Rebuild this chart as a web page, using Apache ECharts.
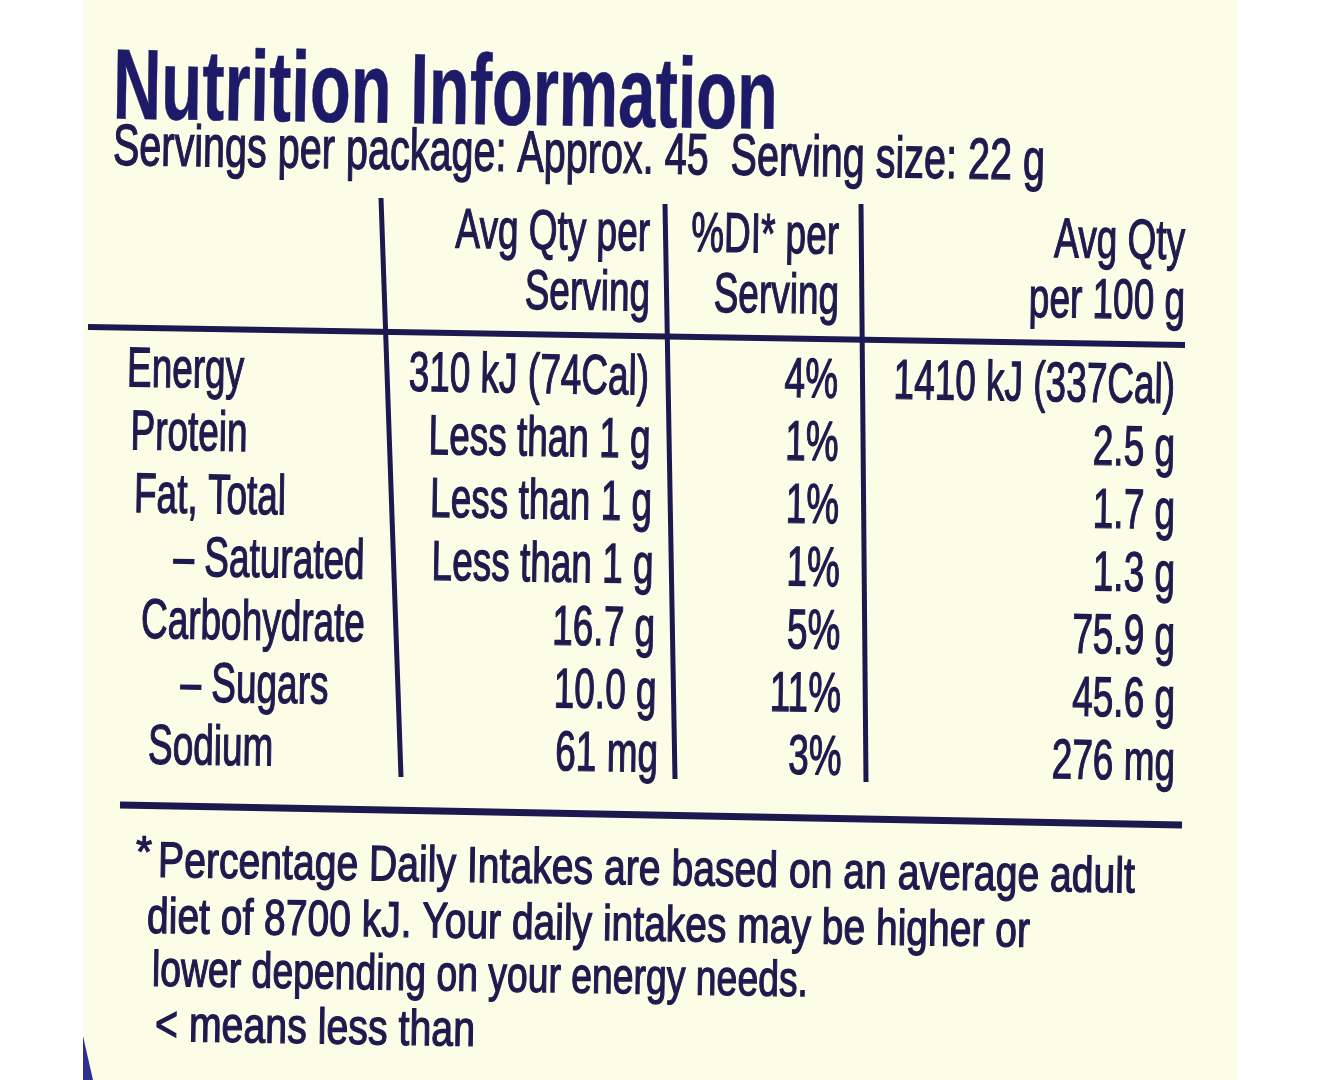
<!DOCTYPE html>
<html>
<head>
<meta charset="utf-8">
<script src="https://cdn.jsdelivr.net/npm/echarts@6/dist/echarts.min.js"></script>
<style>
  html, body { margin: 0; padding: 0; background: #ffffff; }
  #chart { width: 1320px; height: 1080px; }
</style>
</head>
<body>
<div id="chart"></div>
<script>
// table content
const nutrients = ['Energy', 'Protein', 'Fat, Total', '– Saturated', 'Carbohydrate', '– Sugars', 'Sodium'];
const perServing = ['310 kJ (74Cal)', 'Less than 1 g', 'Less than 1 g', 'Less than 1 g', '16.7 g', '10.0 g', '61 mg'];
const diPerServing = ['4%', '1%', '1%', '1%', '5%', '11%', '3%'];
const per100g = ['1410 kJ (337Cal)', '2.5 g', '1.7 g', '1.3 g', '75.9 g', '45.6 g', '276 mg'];
const columnHeads = [['Avg Qty per', 'Serving'], ['%DI* per', 'Serving'], ['Avg Qty', 'per 100 g']];
const titleText = 'Nutrition Information';
const subtitleText = 'Servings per package: Approx. 45  Serving size: 22 g';
const footnotes = [
  'Percentage Daily Intakes are based on an average adult',
  'diet of 8700 kJ. Your daily intakes may be higher or',
  'lower depending on your energy needs.',
  '< means less than'
];

const INK = '#1f1a4e';
const TITLE_INK = '#1d1a68';
const FACE = '"Liberation Sans", Arial, sans-serif';
const SLOPE = 0.016;      // the photo is tilted a little
const SQUEEZE = 0.66;     // condensed face

const measureCtx = document.createElement('canvas').getContext('2d');
function fit(text, font, width) {
  measureCtx.font = font;
  return width / measureCtx.measureText(text).width;
}
function tilt(x, y) {
  return y + (x - 125) * SLOPE;
}
function word(text, x, y, opts) {
  opts = opts || {};
  const size = opts.size || 56;
  const font = (opts.weight || 400) + ' ' + size + 'px ' + FACE;
  const align = opts.align || 'left';
  const color = opts.color || INK;
  return {
    type: 'text',
    x: x,
    y: tilt(x, y) + size * 0.05,
    rotation: -SLOPE,
    scaleX: opts.width ? fit(text, font, opts.width) : SQUEEZE,
    z: 10,
    style: {
      text: text,
      font: font,
      fill: color,
      stroke: color,
      lineWidth: opts.weight ? 0.5 : 1.3,
      align: align, textAlign: align,
      verticalAlign: 'middle', textVerticalAlign: 'middle'
    }
  };
}
function rule(x1, y1, x2, y2, w) {
  return {
    type: 'line', z: 5,
    shape: { x1: x1, y1: y1, x2: x2, y2: y2 },
    style: { stroke: '#1c1850', lineWidth: w, lineCap: 'butt' }
  };
}

const chart = echarts.init(document.getElementById('chart'));

const headRight = [650, 839, 1185];
const graphics = [
  { type: 'rect', z: -10, shape: { x: 83, y: 0, width: 1154, height: 1080 }, style: { fill: '#fcfde7' } },
  { type: 'polygon', z: -5, shape: { points: [[83, 1036], [93, 1080], [83, 1080]] }, style: { fill: '#2f2f92' } },
  word(titleText, 113, 86, { size: 100, weight: 700, width: 665, color: TITLE_INK }),
  word(subtitleText, 113, 146, { size: 58, width: 932 }),
  rule(88, 327, 1185, 345, 6),
  rule(381, 198, 401, 777, 5),
  rule(665, 204, 675, 779, 5),
  rule(861, 204, 866, 782, 5),
  rule(120, 805, 1182, 825, 7),
  word('*', 136, 852, { size: 44, width: 16 }),
];
columnHeads.forEach(function (lines, c) {
  lines.forEach(function (t, k) {
    graphics.push(word(t, headRight[c], 224 + k * 60, { align: 'right' }));
  });
});
const footX = [158, 147, 152, 155];
const footY = [860, 916, 969, 1024];
const footW = [977, 883, 656, 320];
footnotes.forEach(function (t, k) {
  graphics.push(word(t, footX[k], footY[k], { size: 50, width: footW[k] }));
});

const option = {
  backgroundColor: '#ffffff',
  animation: false,
  grid: { left: 0, right: 0, top: 336.6, height: 439.8 },
  xAxis: { type: 'value', min: 0, max: 1320, show: false },
  yAxis: { type: 'category', data: nutrients, inverse: true, show: false },
  graphic: { elements: graphics },
  series: [{
    type: 'custom',
    coordinateSystem: 'cartesian2d',
    encode: { x: 0, y: 1 },
    data: nutrients.map(function (n, i) { return [0, i]; }),
    renderItem: function (params, api) {
      const i = api.value(1);
      const sub = nutrients[i].charAt(0) === '–';
      const labelX = api.coord([127 + 3.5 * i + (sub ? 36 : 0), i]);
      const c1 = api.coord([649 + 1.5 * i, i]);
      const c2 = api.coord([838 + 0.6 * i, i]);
      const c3 = api.coord([1175, i]);
      return {
        type: 'group',
        children: [
          word(nutrients[i], labelX[0], labelX[1]),
          word(perServing[i], c1[0], c1[1], { align: 'right' }),
          word(diPerServing[i], c2[0], c2[1], { align: 'right' }),
          word(per100g[i], c3[0], c3[1], { align: 'right' })
        ]
      };
    }
  }]
};

chart.setOption(option);
</script>
</body>
</html>
